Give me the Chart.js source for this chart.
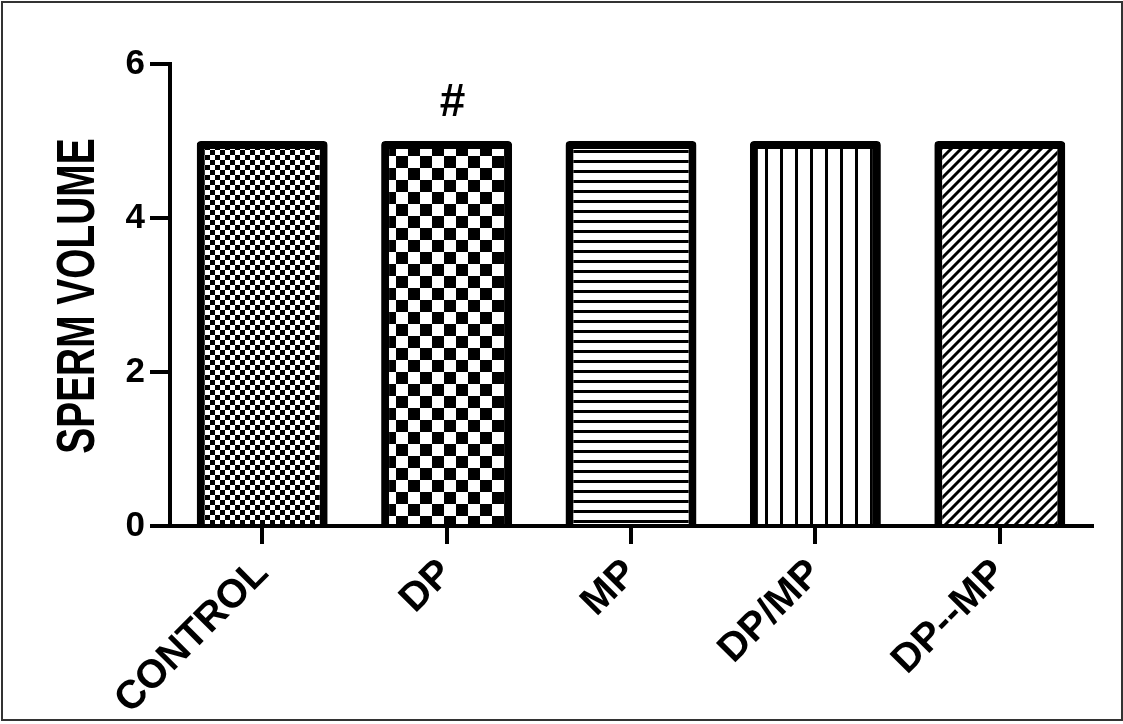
<!DOCTYPE html>
<html>
<head>
<meta charset="utf-8">
<script src="https://cdn.jsdelivr.net/npm/chart.js@4/dist/chart.umd.min.js"></script>
<style>
  body { margin: 0; background: #fff; }
  #wrap { position: absolute; left: 0; top: 0; width: 1123px; height: 724px; }
  #frame { position: absolute; left: 1px; top: 1px; width: 1118px; height: 716px; border: 2px solid #333; pointer-events: none; }
</style>
</head>
<body>
<div id="wrap"><canvas id="chart" width="1123" height="724"></canvas></div>
<div id="frame"></div>
<script>
const categories = ["CONTROL", "DP", "MP", "DP/MP", "DP--MP"]
const volume = [5, 5, 5, 5, 5]
const marks = ["", "#", "", "", ""]
const yTicks = [0, 2, 4, 6]
const yTitle = "SPERM VOLUME"

const FONT = "'Liberation Sans', Arial, sans-serif"

// little tiles for the hatch fills
const makeTile = (w, h, draw) => {
    const c = document.createElement("canvas")
    c.width = w
    c.height = h
    const g = c.getContext("2d")
    g.fillStyle = "#fff"
    g.fillRect(0, 0, w, h)
    g.fillStyle = "#000"
    g.strokeStyle = "#000"
    draw(g)
    return document.getElementById("chart").getContext("2d").createPattern(c, "repeat")
}

const smallChecker = makeTile(10, 10, g => {
    g.fillRect(0, 0, 5, 5)
    g.fillRect(5, 5, 5, 5)
})
const bigChecker = makeTile(24, 24, g => {
    g.fillRect(0, 0, 12, 12)
    g.fillRect(12, 12, 12, 12)
})
const hLines = makeTile(10, 10, g => {
    g.fillRect(0, 0, 10, 3)
})
const vLines = makeTile(15, 10, g => {
    g.fillRect(0, 0, 3, 10)
})
const diag = makeTile(10, 10, g => {
    g.lineWidth = 3
    g.beginPath()
    g.moveTo(-2, 12); g.lineTo(12, -2)
    g.moveTo(-7, 7); g.lineTo(7, -7)
    g.moveTo(3, 17); g.lineTo(17, 3)
    g.stroke()
})
const fills = [smallChecker, bigChecker, hLines, vLines, diag]

const yTitlePlugin = {
    id: "yTitle",
    afterDraw(chart) {
        const ctx = chart.ctx
        ctx.save()
        ctx.translate(94, 296)
        ctx.rotate(-Math.PI / 2)
        ctx.scale(0.72, 1)
        ctx.font = `bold 54px ${FONT}`
        ctx.fillStyle = "#000"
        ctx.textAlign = "center"
        ctx.textBaseline = "alphabetic"
        ctx.fillText(yTitle, 0, 0)
        ctx.restore()
    }
}

const marksPlugin = {
    id: "marks",
    afterDatasetsDraw(chart) {
        const ctx = chart.ctx
        const meta = chart.getDatasetMeta(0)
        ctx.save()
        ctx.font = `bold 46px ${FONT}`
        ctx.fillStyle = "#000"
        ctx.textAlign = "center"
        ctx.textBaseline = "middle"
        marks.forEach((m, i) => {
            if (!m) return
            const bar = meta.data[i]
            ctx.fillText(m, bar.x + 6, bar.y - 38)
        })
        ctx.restore()
    }
}

new Chart(document.getElementById("chart"), {
    type: "bar",
    data: {
        labels: categories,
        datasets: [{
            data: volume,
            backgroundColor: fills,
            borderColor: "#000",
            borderWidth: 8,
            borderRadius: { topLeft: 4, topRight: 4, bottomLeft: 0, bottomRight: 0 },
            borderSkipped: "bottom",
            barPercentage: 0.71,
            categoryPercentage: 1
        }]
    },
    options: {
        responsive: false,
        animation: false,
        layout: { padding: { top: 64, right: 31, bottom: 0, left: 0 } },
        plugins: {
            legend: { display: false },
            tooltip: { enabled: false }
        },
        scales: {
            x: {
                afterFit: s => { s.height = 198 },
                border: { color: "#000", width: 4, z: 1 },
                grid: { offset: false, drawOnChartArea: false, color: "#000", tickColor: "#000", tickLength: 18, lineWidth: 4, tickWidth: 4 },
                ticks: {
                    color: "#000",
                    font: { family: FONT, size: 40, weight: "bold" },
                    minRotation: 45,
                    maxRotation: 45,
                    padding: 6,
                    autoSkip: false
                }
            },
            y: {
                min: 0,
                max: 6,
                afterFit: s => { s.width = 170 },
                afterBuildTicks: s => { s.ticks = yTicks.map(v => ({ value: v })) },
                border: { color: "#000", width: 4 },
                grid: { drawOnChartArea: false, color: "#000", tickColor: "#000", tickLength: 20, lineWidth: 4, tickWidth: 4 },
                ticks: {
                    color: "#000",
                    font: { family: FONT, size: 35, weight: "bold" },
                    padding: 5
                }
            }
        }
    },
    plugins: [yTitlePlugin, marksPlugin]
})
</script>
</body>
</html>
